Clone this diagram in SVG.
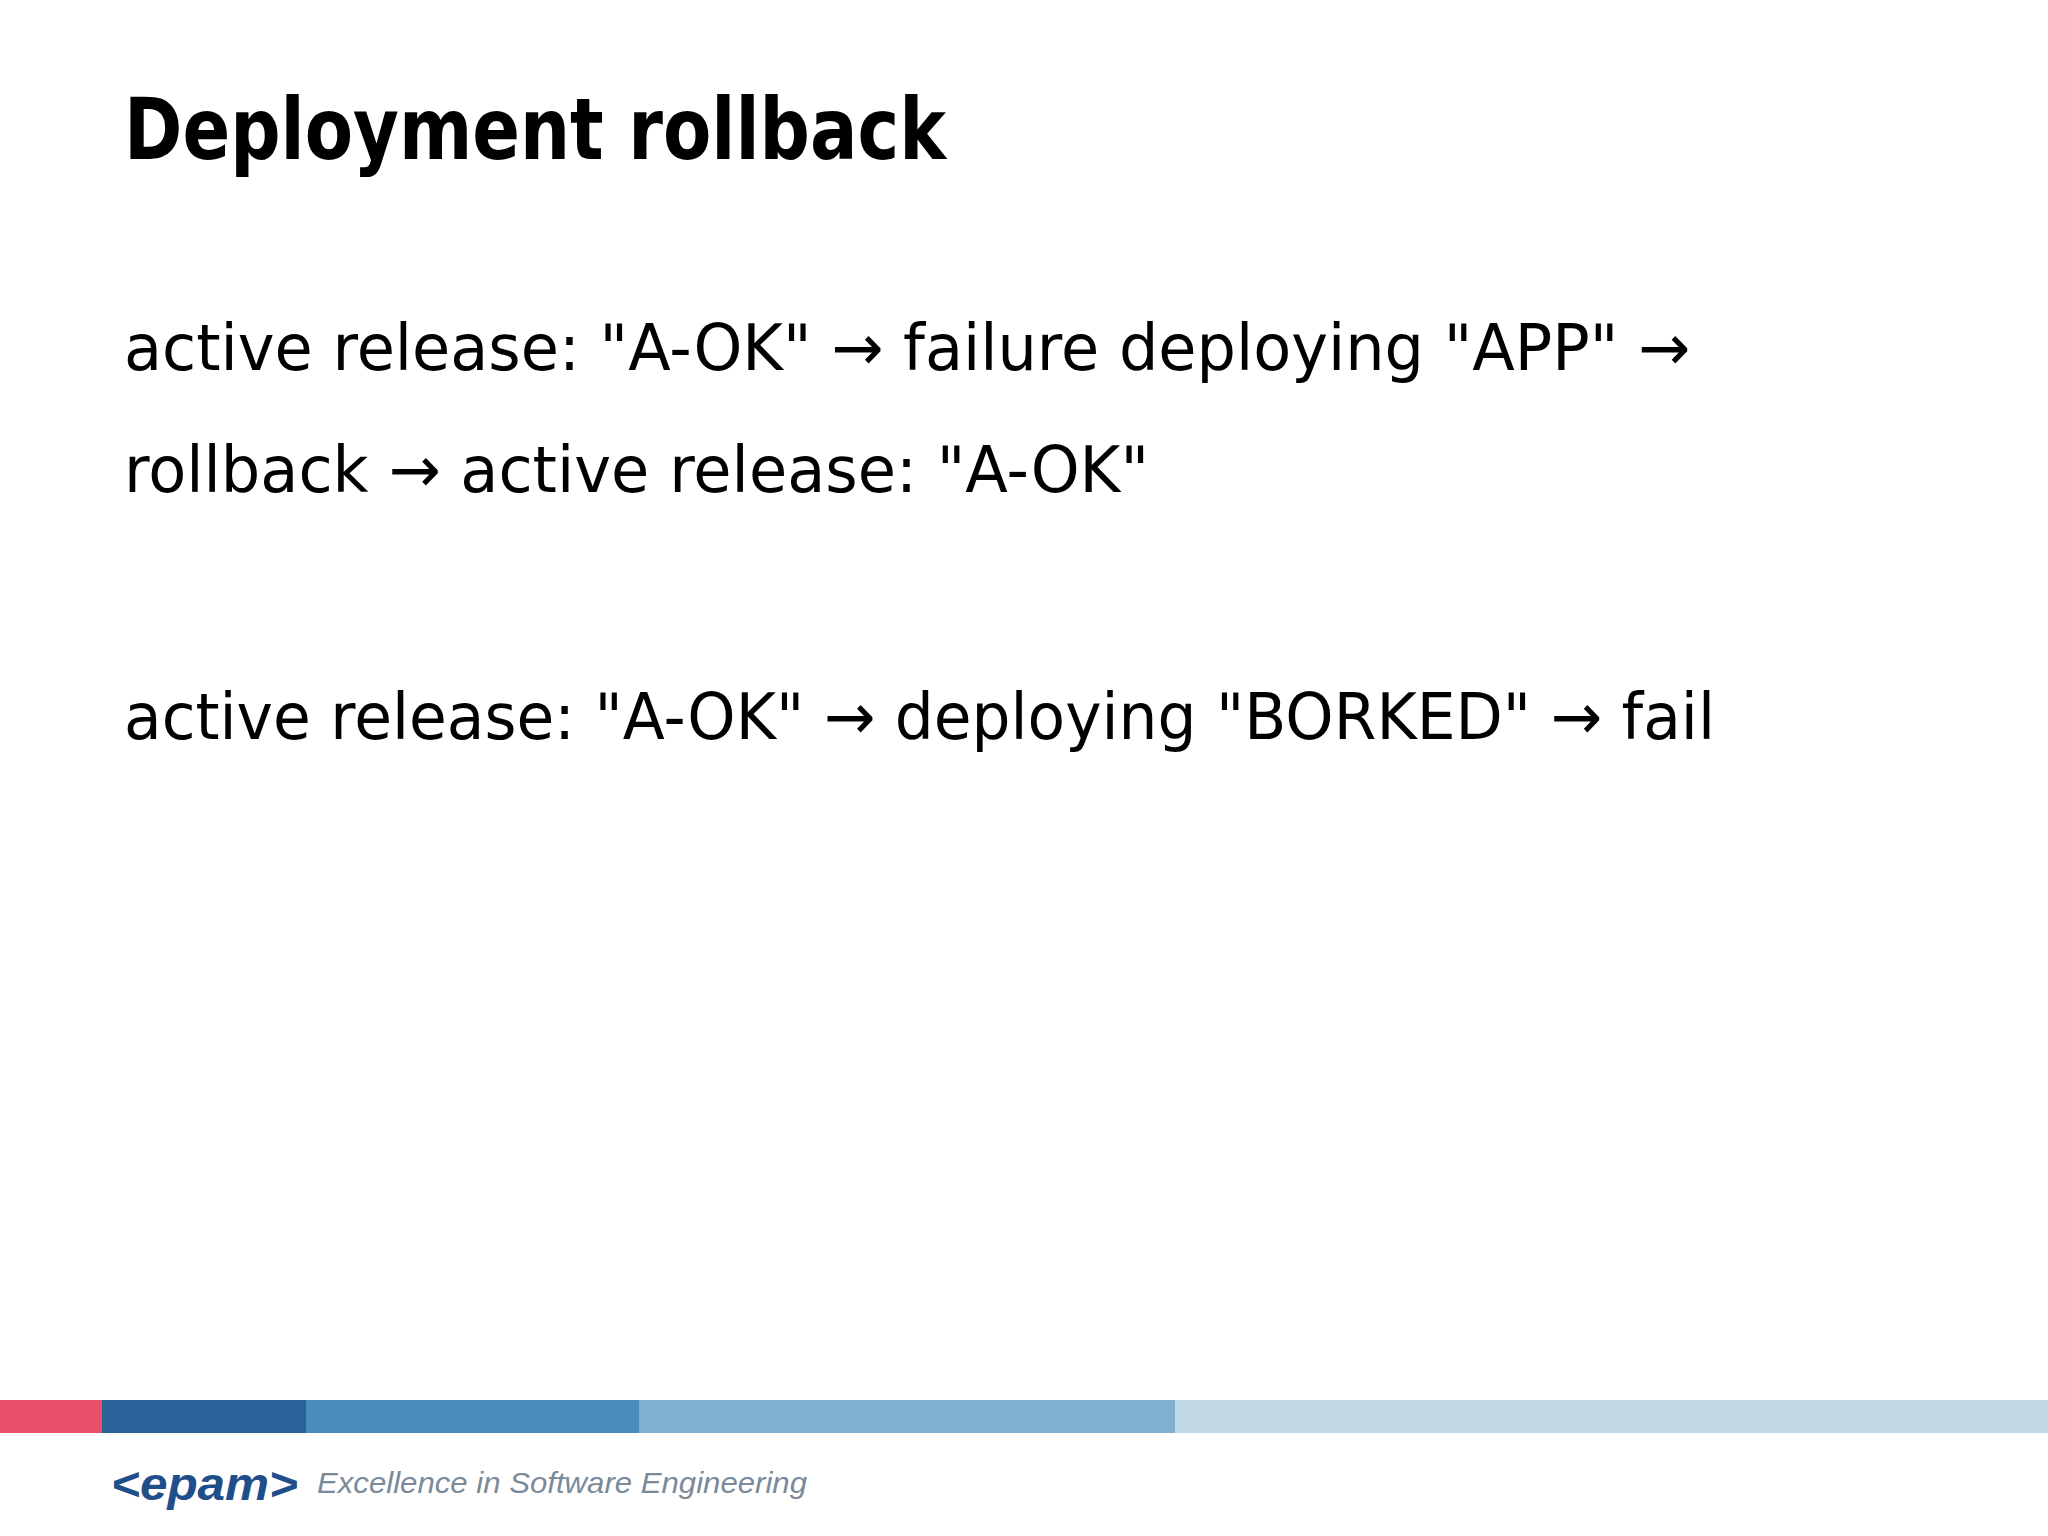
<svg xmlns="http://www.w3.org/2000/svg" width="2048" height="1536" viewBox="0 0 2048 1536">
<style>
.t{font-family:"DejaVu Sans","Liberation Sans",sans-serif;font-weight:bold;font-size:86px;fill:#000}
.b{font-family:"DejaVu Sans","Liberation Sans",sans-serif;font-size:64px;fill:#000}
</style>
<rect width="2048" height="1536" fill="#fff"/>
<g id="title"><text class="t" x="124" y="159" textLength="822" lengthAdjust="spacingAndGlyphs">Deployment rollback</text></g>
<g id="body">
<text class="b" x="124" y="370" textLength="1566" lengthAdjust="spacingAndGlyphs">active release: "A-OK" → failure deploying "APP" →</text>
<text class="b" x="124" y="492" textLength="1025" lengthAdjust="spacingAndGlyphs">rollback → active release: "A-OK"</text>
<text class="b" x="124" y="739" textLength="1591" lengthAdjust="spacingAndGlyphs">active release: "A-OK" → deploying "BORKED" → fail</text>
</g>
<g id="footer">
<rect x="0" y="1400" width="102" height="33" fill="#e8506a"/>
<rect x="102" y="1400" width="204" height="33" fill="#2a6199"/>
<rect x="306" y="1400" width="333" height="33" fill="#4a8bbd"/>
<rect x="639" y="1400" width="536" height="33" fill="#7fb0cf"/>
<rect x="1175" y="1400" width="873" height="33" fill="#c2d9e8"/>
<text x="111" y="1500" font-family="Liberation Sans,sans-serif" font-weight="bold" font-style="italic" font-size="46" fill="#1f4e8a" textLength="187" lengthAdjust="spacingAndGlyphs">&lt;epam&gt;</text>
<text x="317" y="1493" font-family="Liberation Sans,sans-serif" font-style="italic" font-size="30" fill="#7a8a99" textLength="490" lengthAdjust="spacingAndGlyphs">Excellence in Software Engineering</text>
</g>
</svg>
